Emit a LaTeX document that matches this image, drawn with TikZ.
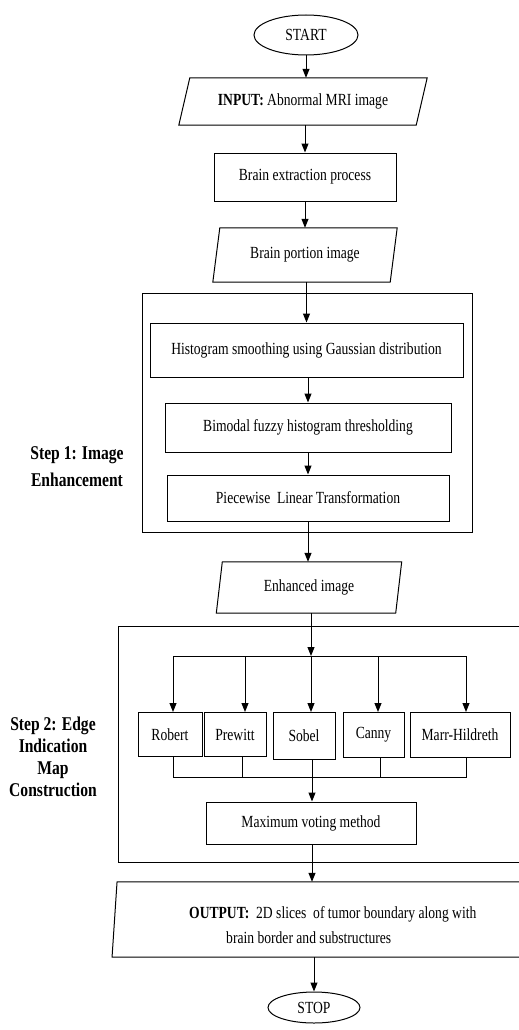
\documentclass[tikz,border=0pt]{standalone}
\usepackage{fontspec}
\setmainfont{Liberation Serif}[FakeStretch=0.8]
\usetikzlibrary{arrows.meta,shapes.geometric}
\newcommand\drawpara[2]{\draw[line width=1pt] ([xshift=#2]#1.north west) -- ([xshift=#2]#1.north east) -- ([xshift=-#2]#1.south east) -- ([xshift=-#2]#1.south west) -- cycle;}
\begin{document}
\begin{tikzpicture}[x=1pt,y=-1pt,
  txt/.style={font=\fontsize{17pt}{20pt}\selectfont},
  box/.style={txt,draw,line width=1pt,inner sep=0pt},
  para/.style={txt,inner sep=0pt},
  term/.style={txt,draw,ellipse,line width=1pt,inner sep=0pt},
  frame/.style={draw,line width=1pt,inner sep=0pt},
  arr/.style={-{Triangle[length=9pt,width=7pt]},line width=1pt},
  ln/.style={line width=1pt},
  lbl/.style={align=center,inner sep=0pt}]
\useasboundingbox (0,0) rectangle (519,1030);
\clip (0,0) rectangle (519,1030);
% frames
\node[frame,minimum width=330pt,minimum height=239pt] (outer1) at (307,412.5) {};
\node[frame,minimum width=412pt,minimum height=236pt] (outer2) at (324,744) {};
% main chain
\node[term,minimum width=104pt,minimum height=40pt] (start) at (306,35) {START};
\node[para,minimum width=237pt,minimum height=47pt] (input) at (303,101.5) {\textbf{INPUT:} Abnormal MRI image};
\drawpara{input}{5.5pt}
\node[box,minimum width=182pt,minimum height=48pt] (be) at (305,177) {Brain extraction process};
\node[para,minimum width=177pt,minimum height=54pt] (bp) at (305,255) {Brain portion image};
\drawpara{bp}{3.5pt}
\node[box,minimum width=313pt,minimum height=54pt] (hist) at (306.5,350) {Histogram smoothing using Gaussian distribution};
\node[box,minimum width=286pt,minimum height=49pt] (bim) at (308,427.5) {Bimodal fuzzy histogram thresholding};
\node[box,minimum width=282pt,minimum height=46pt] (pw) at (308,498) {Piecewise\ \ Linear Transformation};
\node[para,minimum width=179pt,minimum height=51pt] (enh) at (309,587.5) {Enhanced image};
\drawpara{enh}{3pt}
% edge detectors
\node[box,minimum width=64pt,minimum height=44pt,anchor=north] (robert) at (170,712) {Robert};
\node[box,minimum width=62pt,minimum height=44pt,anchor=north] (prewitt) at (235,712) {Prewitt};
\node[box,minimum width=62pt,minimum height=47pt,anchor=north] (sobel) at (304,712) {Sobel};
\node[box,minimum width=61pt,minimum height=45pt,anchor=north] (canny) at (373.5,712) {Canny};
\node[box,minimum width=100pt,minimum height=45pt,anchor=north] (marr) at (460,712) {Marr-Hildreth};
\node[box,minimum width=210pt,minimum height=42pt] (maxv) at (311,823) {Maximum voting method};
\node[para,minimum width=425pt,minimum height=75pt] (out) at (327.25,919.5) {};
\drawpara{out}{2.5pt}
\node[txt,align=left,anchor=west,inner sep=0pt,font=\fontsize{17pt}{25pt}\selectfont] (outtext) at (189,925) {\textbf{OUTPUT:}\ \ 2D slices\ \ of tumor boundary along with\\\hspace*{37pt}brain border and substructures};
\node[term,minimum width=92pt,minimum height=31pt] (stop) at (314,1007.5) {STOP};
% side labels
\node[lbl,font=\fontsize{19.5pt}{27pt}\selectfont\bfseries] (s1) at (77,467) {Step 1: Image\\Enhancement};
\node[lbl,font=\fontsize{19.5pt}{22pt}\selectfont\bfseries] (s2) at (53,757) {Step 2: Edge\\Indication\\Map\\Construction};
% branch coordinates
\coordinate (b1) at (173,656);
\coordinate (b2) at (245,656);
\coordinate (b3) at (311,656);
\coordinate (b4) at (378,656);
\coordinate (b5) at (466,656);
\coordinate (m1) at (173,777);
\coordinate (m2) at (242,777);
\coordinate (m3) at (312,777);
\coordinate (m4) at (380,777);
\coordinate (m5) at (466,777);
% connectors
\draw[arr] (start.south) -- (start.south |- input.north);
\draw[arr] (be.north |- input.south) -- (be.north);
\draw[arr] (be.south) -- (be.south |- bp.north);
\draw[arr] (hist.north |- bp.south) -- (hist.north);
\draw[arr] (bim.north |- hist.south) -- (bim.north);
\draw[arr] (pw.north |- bim.south) -- (pw.north);
\draw[arr] (pw.south) -- (pw.south |- enh.north);
\draw[arr] (b3 |- enh.south) -- (b3);
\draw[ln] (b1) -- (b5);
\draw[arr] (b1) -- (b1 |- robert.north);
\draw[arr] (b2) -- (b2 |- prewitt.north);
\draw[arr] (b3) -- (b3 |- sobel.north);
\draw[arr] (b4) -- (b4 |- canny.north);
\draw[arr] (b5) -- (b5 |- marr.north);
\draw[ln] (m1 |- robert.south) -- (m1) -- (m5) -- (m5 |- marr.south);
\draw[ln] (m2 |- prewitt.south) -- (m2);
\draw[ln] (m4 |- canny.south) -- (m4);
\draw[arr] (m3 |- sobel.south) -- (m3 |- maxv.north);
\draw[arr] (m3 |- maxv.south) -- (m3 |- out.north);
\draw[arr] (stop.north |- out.south) -- (stop.north);
\end{tikzpicture}
\end{document}
